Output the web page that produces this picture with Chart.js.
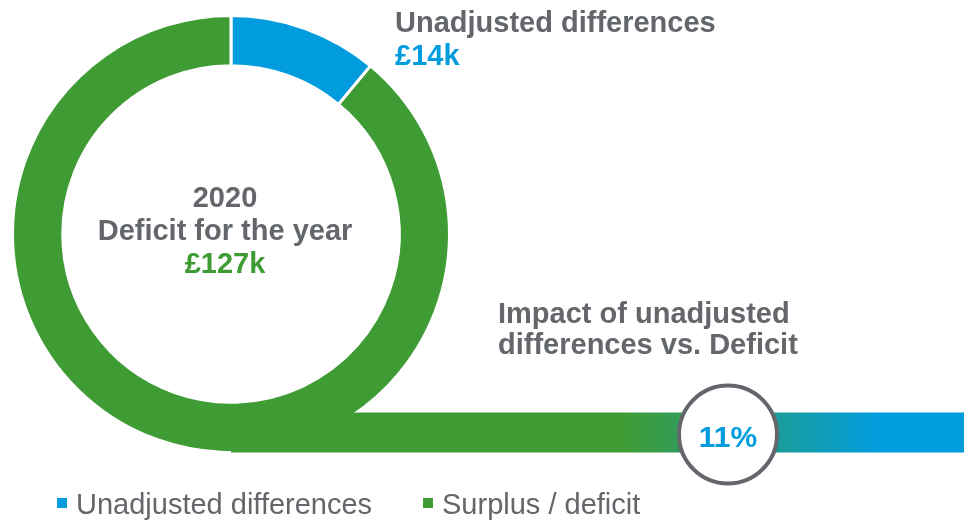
<!DOCTYPE html>
<html>
<head>
<meta charset="utf-8">
<script src="https://cdn.jsdelivr.net/npm/chart.js@4/dist/chart.umd.min.js"></script>
<style>
  body { margin: 0; background: #fff; }
  #wrap { width: 964px; height: 520px; }
</style>
</head>
<body>
<div id="wrap"><canvas id="chart" width="964" height="520"></canvas></div>
<script>
// data
const labels = ['Unadjusted differences', 'Surplus / deficit'];
const values = [14, 113];          // £k, adds up to the £127k deficit
const colors = ['#009cde', '#3f9c35'];
const year = '2020';
const deficitTotal = 127;
const impactPct = 11;

const grey = '#63666a';
const font = '"Liberation Sans", Arial, sans-serif';

// ribbon running from the bottom of the ring out to the right, with the % bubble
const ribbonPlugin = {
  id: 'ribbon',
  afterDatasetsDraw(chart) {
    const ctx = chart.ctx;
    const arc = chart.getDatasetMeta(0).data[0];
    const cx = arc.x, bottom = arc.y + arc.outerRadius;
    const h = 40;

    const grad = ctx.createLinearGradient(627, 0, 880, 0);
    grad.addColorStop(0, colors[1]);
    grad.addColorStop(1, colors[0]);
    ctx.save();
    ctx.fillStyle = grad;
    ctx.fillRect(cx, bottom - h, chart.width - cx, h);

    // bubble
    ctx.beginPath();
    ctx.arc(728, 434.5, 49, 0, Math.PI * 2);
    ctx.fillStyle = '#fff';
    ctx.fill();
    ctx.lineWidth = 4;
    ctx.strokeStyle = grey;
    ctx.stroke();
    ctx.fillStyle = colors[0];
    ctx.font = 'bold 30px ' + font;
    ctx.textAlign = 'center';
    ctx.textBaseline = 'alphabetic';
    ctx.fillText(impactPct + '%', 728, 447);
    ctx.restore();
  }
};

// text in and around the ring, plus the legend row
const textPlugin = {
  id: 'texts',
  afterDraw(chart) {
    const ctx = chart.ctx;
    const arc = chart.getDatasetMeta(0).data[0];
    const tx = arc.x - 6;
    ctx.save();
    ctx.font = 'bold 29px ' + font;
    ctx.textAlign = 'center';
    ctx.fillStyle = grey;
    ctx.fillText(year, tx, 207);
    ctx.fillText('Deficit for the year', tx, 240);
    ctx.fillStyle = colors[1];
    ctx.fillText('£' + deficitTotal + 'k', tx, 273);

    ctx.textAlign = 'left';
    ctx.fillStyle = grey;
    ctx.fillText(labels[0], 395, 32);
    ctx.fillStyle = colors[0];
    ctx.fillText('£' + values[0] + 'k', 395, 65);

    ctx.fillStyle = grey;
    ctx.fillText('Impact of unadjusted', 498, 323);
    ctx.fillText('differences vs. Deficit', 498, 354);

    // legend
    ctx.font = '29px ' + font;
    const itemX = [57, 423];
    labels.forEach((lab, i) => {
      ctx.fillStyle = colors[i];
      ctx.fillRect(itemX[i], 498, 10, 10);
      ctx.fillStyle = grey;
      ctx.fillText(lab, itemX[i] + 19, 514);
    });
    ctx.restore();
  }
};

new Chart(document.getElementById('chart'), {
  type: 'doughnut',
  data: {
    labels: labels,
    datasets: [{
      data: values,
      backgroundColor: colors,
      borderColor: '#fff',
      borderWidth: 3
    }]
  },
  options: {
    responsive: false,
    animation: false,
    cutout: '77%',
    layout: { padding: { left: 11, top: 14, right: 513, bottom: 66 } },
    plugins: {
      legend: { display: false },
      tooltip: { enabled: false }
    }
  },
  plugins: [ribbonPlugin, textPlugin]
});
</script>
</body>
</html>
